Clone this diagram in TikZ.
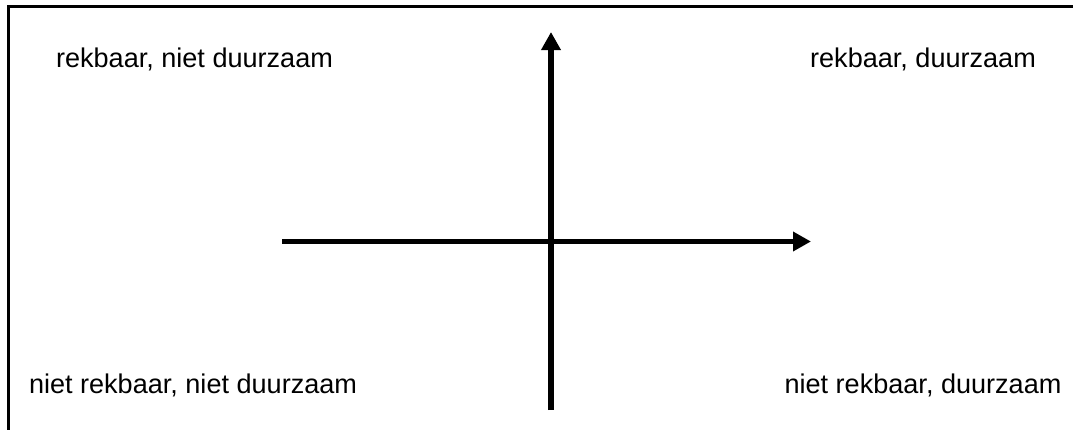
\documentclass[tikz,border=0pt]{standalone}
\usepackage{fontspec}
\setmainfont{Liberation Sans}
\usetikzlibrary{arrows.meta}
\begin{document}
\begin{tikzpicture}[x=0.75pt,y=-0.75pt,
  lbl/.style={anchor=base,inner sep=0pt,font=\fontsize{20.3}{24}\selectfont},
  axis/.style={line width=4.3pt,-{Triangle[length=13.5pt,width=14pt]}}]
\useasboundingbox (0,0) rectangle (1073,429);
\fill[white] (0,0) rectangle (1073,429);
\draw[line width=2pt] (8.7,440) -- (8.7,6.3) -- (1085,6.3);
\coordinate (vb) at (551,410);
\coordinate (vt) at (551,32);
\coordinate (hl) at (282,241.5);
\coordinate (hr) at (811,241.5);
\draw[axis] (vb) -- (vt);
\draw[axis] (hl) -- (hr);
\node[lbl] (tl) at (194.5,67) {rekbaar, niet duurzaam};
\node[lbl] (tr) at (923,67) {rekbaar, duurzaam};
\node[lbl] (bl) at (193,393) {niet rekbaar, niet duurzaam};
\node[lbl] (br) at (923,393) {niet rekbaar, duurzaam};
\end{tikzpicture}
\end{document}
